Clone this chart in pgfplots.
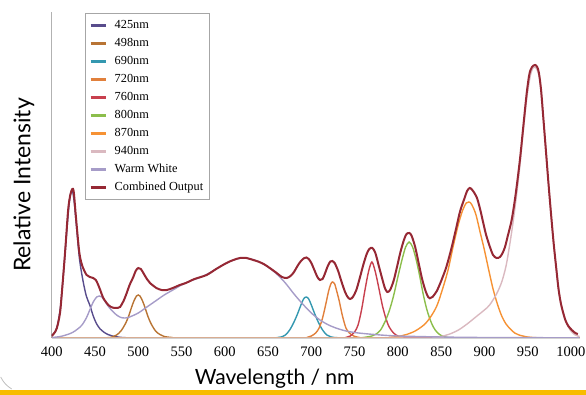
\documentclass[border=0pt]{standalone}
\usepackage{fontspec}
\setmainfont{Liberation Serif}
\newfontfamily\labelfont{Lato}
\usepackage{pgfplots}
\pgfplotsset{compat=1.18}
\definecolor{c425}{RGB}{88,76,140}
\definecolor{c498}{RGB}{184,116,52}
\definecolor{c690}{RGB}{52,152,176}
\definecolor{c720}{RGB}{225,128,60}
\definecolor{c760}{RGB}{200,64,78}
\definecolor{c800}{RGB}{140,190,76}
\definecolor{c870}{RGB}{246,146,52}
\definecolor{c940}{RGB}{218,185,192}
\definecolor{cww}{RGB}{166,156,200}
\definecolor{ccomb}{RGB}{150,40,52}
\definecolor{cyel}{RGB}{248,188,0}
\begin{document}
\begin{tikzpicture}
\useasboundingbox (-51.7pt,-57pt) rectangle (534.3pt,338pt);
\begin{axis}[
  at={(0pt,0pt)}, anchor=south west,
  scale only axis, width=527.9pt, height=326pt,
  xmin=400, xmax=1010, ymin=0, ymax=326,
  axis x line*=bottom, axis y line*=left,
  axis line style={-},
  x axis line style={draw=gray!35, line width=0.6pt},
  y axis line style={draw=gray!60, line width=0.8pt},
  xtick={400,450,...,1000}, ytick=\empty,
  major tick length=0pt,
  /pgf/number format/assume math mode=true,
  /pgf/number format/1000 sep={},
  xticklabel style={font=\fontsize{14.5}{16}\selectfont, inner sep=0pt, yshift=-9pt},
  every axis plot/.append style={line width=1.4pt, smooth, tension=0.5},
  legend cell align=left,
  legend image code/.code={\draw[#1, line width=2.4pt] (0pt,0pt) -- (15pt,0pt);},
  legend style={at={(0.0631,0.996)}, anchor=north west, draw=gray!70, line width=0.6pt,
    font=\fontsize{12.3}{14}\selectfont, inner xsep=4pt, inner ysep=6pt,
    row sep=6pt, column sep=5.5pt,
    nodes={inner ysep=0pt, inner xsep=2.5pt, text height=9pt, text depth=3pt}},
]
% 425nm
\addplot[c425] coordinates {(400,2.5)(404,6)(407,14)(410,30)(412,48)(415,80)(418,113)(420,133)(422,145)(424,147)(426,136)(428,118)(432,80)(436,58)(440,42)(444,33)(448,22)(452,14)(456,9)(460,6)(465,3.5)(470,2)(480,0.6)(490,0.2)(520,0)(1010,0)};
% 498nm
\addplot[c498] coordinates {(400,0)(460,0.2)(470,1)(475,3)(480,7)(485,14)(489,22)(492,30)(495,37)(498,42)(500,43)(502,42)(505,37)(508,30)(511,22)(515,14)(520,7)(525,3.5)(530,1.5)(540,0.4)(550,0)(1010,0)};
% 690nm
\addplot[c690] coordinates {(400,0)(650,0)(660,0.3)(665,1)(670,3)(675,8)(680,16)(684,24)(688,33)(691,39)(694,41)(697,39)(700,33)(704,24)(708,16)(713,8)(718,3)(723,1)(730,0.3)(740,0)(1010,0)};
% 720nm
\addplot[c720] coordinates {(400,0)(685,0)(695,0.5)(700,2)(705,5)(709,10)(713,20)(717,35)(720,47)(722.5,54)(724.5,56)(727,54)(729,48)(732,38)(736,22)(740,10)(744,5)(749,2)(755,0.6)(765,0)(1010,0)};
% 760nm
\addplot[c760] coordinates {(400,0)(730,0)(740,0.5)(745,2)(750,6)(754,13)(758,28)(762,48)(766,66)(770,76)(774,66)(778,50)(782,33)(786,20)(790,11)(795,5)(800,2)(806,0.6)(815,0)(1010,0)};
% 800nm
\addplot[c800] coordinates {(400,0)(750,0)(760,0.5)(770,2)(775,4)(780,8)(785,16)(790,27)(795,42)(800,61)(805,79)(809,91)(813,96)(817,91)(821,79)(825,63)(829,45)(833,30)(837,19)(841,11)(845,6)(850,2.5)(856,0.8)(865,0)(1010,0)};
% 870nm
\addplot[c870] coordinates {(400,0)(780,0)(790,0.6)(800,1.5)(810,3.5)(820,7)(830,13)(837,20)(845,32)(852,50)(858,68)(864,92)(870,114)(875,128)(879,135)(882,136)(885,134)(890,124)(895,106)(900,88)(905,68)(910,49)(915,34)(920,22)(925,14)(930,9)(935,5)(940,3)(950,1)(960,0.3)(975,0)(1010,0)};
% 940nm
\addplot[c940] coordinates {(400,0)(830,0)(840,0.5)(850,1.5)(860,4)(870,8)(880,14)(890,21)(900,28)(906,33)(914,44)(920,56)(925,72)(929,92)(933,115)(937,142)(941,172)(945,208)(949,240)(953,262)(956,270)(958.5,271)(961,268)(964,258)(968,220)(971,190)(974,155)(977,124)(980,94)(983,70)(986,47)(989,33)(993,20)(997,11)(1001,6)(1005,3)(1010,1.5)};
% Warm White
\addplot[cww] coordinates {(400,0.5)(410,1.5)(420,4)(425,6)(430,9)(435,13)(440,20)(444,28)(448,36)(452,41)(455,42)(458,41)(462,36)(466,31)(470,27)(475,23)(480,20.5)(485,20)(490,21)(500,25)(510,31)(520,37)(530,43)(540,48)(550,53)(560,57)(570,60)(580,64)(590,69)(600,74)(610,78)(620,80)(630,79)(640,76)(650,71)(660,64)(670,55)(680,44)(690,34)(700,25)(710,18)(720,13)(730,9.5)(740,7)(750,5.5)(760,4.5)(780,3)(800,2)(850,1)(900,0.5)(1010,0.2)};
% Combined Output
\addplot[ccomb, line width=2pt] coordinates {(400,2)(403,5)(406,10)(409.6,25)(412,48)(415.4,85)(419,128)(421.5,143)(423.8,149)(425.5,146)(428,121)(432,85)(435.8,71)(440.4,63)(444,61)(448,60)(451,58)(453.8,53)(456.5,47)(459.6,40)(465.4,33)(470,30.5)(473,30)(476,30)(479,31)(483,37)(486.7,45)(490,53)(494.3,61)(497,67)(500,70)(503,69)(505.9,65)(510,59)(513.6,55)(521,50)(527,48)(533,48)(540,50)(548,53)(555,55)(565,59)(579,63)(590,69)(602,75)(610,78)(617.6,80)(625,80)(633,78)(640,76)(645,74)(652,70)(660,65)(666,61)(671.5,60)(676,62)(680,66)(684,72)(688,77)(692,80)(694.5,80.5)(697,79)(700,75)(704,67)(707,61)(710,58)(713,59)(716,65)(719,72)(722,76.5)(724.5,77)(727,75)(731,67)(735,56)(739,46)(742,41)(744.7,39)(748,41)(752,48)(756,60)(760,73)(764,84)(767,89)(770.5,90)(774,85)(778,72)(782,59)(785,50)(787.8,46)(791,48)(795,57)(799,71)(803,86)(807,98)(810,104)(813.3,105)(816,102)(820,91)(824,75)(828,59)(832,47)(835,41)(837,39.7)(840,41)(845,47)(850,57)(856,71)(862,90)(867.7,111)(872,127)(877.5,141)(880,147)(883,150)(886,148)(891,141)(895,129)(898.7,115)(902,103)(906.4,91)(910,83)(914,80)(918,81)(921,85)(923.8,91)(927,102)(931.5,118)(936,143)(941,178)(945,212)(948.9,245)(952,264)(955,271)(958.5,273)(961,271)(963,265)(965.5,248)(968,221)(971,188)(974,155)(977,124)(980,95)(983,70)(985.8,48)(989,32)(993.5,18)(997,12)(1001,8)(1005,5)(1008,4)};
\legend{425nm,498nm,690nm,720nm,760nm,800nm,870nm,940nm,Warm White,Combined Output}
\end{axis}
\node[font=\labelfont\fontsize{23}{26}\selectfont, rotate=90] at (-27.7pt,153pt) {Relative Intensity};
\node[font=\labelfont\fontsize{21}{24}\selectfont] at (223pt,-41pt) {Wavelength / nm};
\fill[cyel] (-51.7pt,-57pt) rectangle (534.3pt,-52pt);
\draw[gray!50, line width=0.8pt] (-51pt,-39pt) to[bend right=15] (-40pt,-51pt);
\end{tikzpicture}
\end{document}
